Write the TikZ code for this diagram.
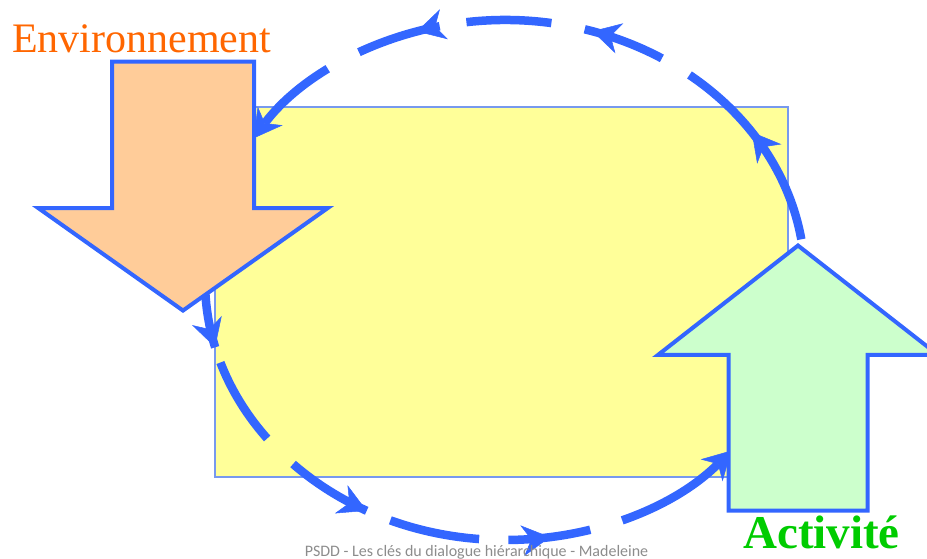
\documentclass[tikz,border=0pt]{standalone}
\usepackage{fontspec}
\setmainfont{Liberation Serif}
\newfontfamily\footfont{Carlito}
\usetikzlibrary{shapes.arrows,arrows.meta,decorations.markings}
\definecolor{loopblue}{HTML}{3366FF}
\definecolor{panelfill}{HTML}{FFFF99}
\definecolor{panelline}{HTML}{7799EE}
\definecolor{envfill}{HTML}{FFCC99}
\definecolor{actfill}{HTML}{CCFFCC}
\definecolor{envtext}{HTML}{FF6600}
\definecolor{acttext}{HTML}{00CC00}
\definecolor{footgray}{HTML}{8C8C8C}
\tikzset{flowtip/.tip={Stealth[length=28pt,width=31pt,inset=9pt,line width=0.5pt]}}

\begin{document}
\begin{tikzpicture}[x=1pt,y=1pt,
	panel/.style={draw=panelline,line width=1.2pt,fill=panelfill,minimum width=573pt,minimum height=370pt,inner sep=0pt},
	bigarrow/.style={single arrow,draw=loopblue,line width=4pt,inner xsep=0pt,anchor=tip},
	flow/.style={line width=8.5pt,color=loopblue,-flowtip,postaction={decorate}},
	lowloop/.style={flow,dash pattern=on 77.4pt off 16.1pt on 89.7pt off 36.4pt on 87.5pt off 25.5pt on 91pt off 29.3pt on 82.7pt off 33.3pt on 200pt,
		decoration={markings,mark=at position 77.4pt with {\arrow{flowtip}},mark=at position 307.1pt with {\arrow{flowtip}},mark=at position 494.7pt with {\arrow{flowtip}}}},
	uploop/.style={flow,dash pattern=on 204.2pt off 32.2pt on 82.7pt off 33.9pt on 85.2pt off 27.1pt on 85pt off 35.3pt on 200pt,
		decoration={markings,mark=at position 119.3pt with {\arrow{flowtip}},mark=at position 311.3pt with {\arrow{flowtip}},mark=at position 488.7pt with {\arrow{flowtip}}}}]
	\useasboundingbox (0,0) rectangle (927,558);
	\node[panel] (box) at (501.5,266) {};
	% the cycle round the panel
	\coordinate (loop) at (505,278);
	\path (loop) ++(178:300pt and 260pt) coordinate (lowstart);
	\path (loop) ++(9:300pt and 260pt) coordinate (upstart);
	\draw[lowloop] (lowstart) arc[start angle=178,end angle=319,x radius=300pt,y radius=260pt];
	\draw[uploop] (upstart) arc[start angle=9,end angle=147,x radius=300pt,y radius=260pt];
	% the two big arrows
	\node[bigarrow,fill=envfill,rotate=-90,inner ysep=69pt,single arrow head extend=73.5pt,minimum height=249pt,single arrow tip angle=109.4] (env) at (183,245) {};
	\node[bigarrow,fill=actfill,rotate=90,inner ysep=67.5pt,single arrow head extend=70.5pt,minimum height=265pt,single arrow tip angle=104] (act) at (798,315) {};
	\node[anchor=base west,inner sep=0pt,text=envtext,font=\fontsize{42}{42}\selectfont] (envlabel) at (12,505) {Environnement};
	\node[anchor=base west,inner sep=0pt,text=acttext,font=\bfseries\fontsize{47}{47}\selectfont] (actlabel) at (743,10) {Activité};
	\node[anchor=base,inner sep=0pt,text=footgray,font=\footfont\fontsize{16}{16}\selectfont] (foot) at (476.5,2) {PSDD - Les clés du dialogue hiérarchique - Madeleine};
\end{tikzpicture}
\end{document}
